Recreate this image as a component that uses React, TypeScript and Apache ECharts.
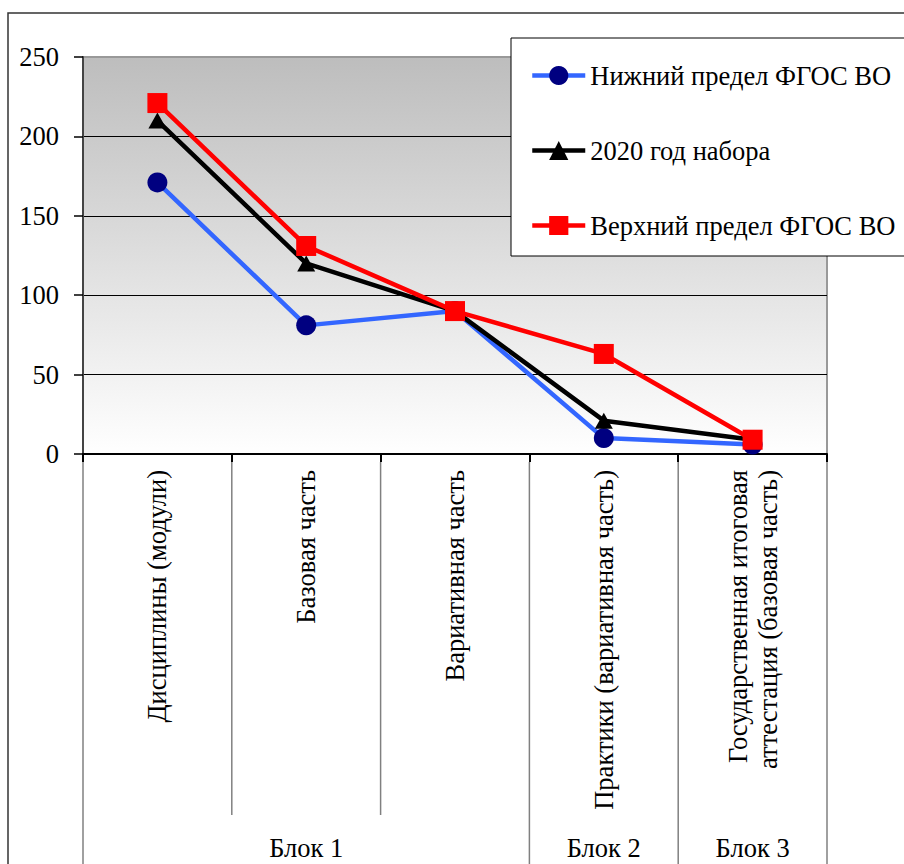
import React, { useEffect, useRef } from 'react';
import * as echarts from 'echarts';

const categories = [
  'Дисциплины (модули)',
  'Базовая часть',
  'Вариативная часть',
  'Практики (вариативная часть)',
  'Государственная итоговая\nаттестация (базовая часть)',
];
const lowerLimit = [171, 81, 90, 10, 6];
const year2020 = [210, 120, 90, 21, 9];
const upperLimit = [221, 131, 90, 63, 9];
const seriesNames = ['Нижний предел ФГОС ВО', '2020 год набора', 'Верхний предел ФГОС ВО'];
const groupNames = ['Блок 1', 'Блок 2', 'Блок 3'];
const groupSpans = [3, 1, 1];
const yMin = 0;
const yMax = 250;
const yStep = 50;

const FONT = 'Liberation Serif';
const FS = 26.5;

export default function App() {
  const ref = useRef<HTMLDivElement>(null);
  useEffect(() => {
    if (!ref.current) return;
    const chart = echarts.init(ref.current, undefined, { renderer: 'svg' });
    const option: any = {
      animation: false,
      backgroundColor: '#ffffff',
      textStyle: { fontFamily: FONT, color: '#000' },
      grid: {
        left: 83,
        top: 57,
        right: 77,
        bottom: 410,
        outerBoundsMode: 'none',
        containLabel: false,
        show: true,
        borderColor: '#999999',
        borderWidth: 2,
        backgroundColor: new echarts.graphic.LinearGradient(0, 0, 0, 1, [
          { offset: 0, color: '#bdbdbd' },
          { offset: 1, color: '#ffffff' },
        ]),
      },
      legend: {
        orient: 'vertical',
        left: 511,
        top: 38,
        padding: [24, 40, 17, 19],
        backgroundColor: '#ffffff',
        borderColor: '#000000',
        borderWidth: 1,
        itemWidth: 53,
        itemHeight: 24,
        itemGap: 48,
        lineStyle: { width: 4.5 },
        textStyle: { fontFamily: FONT, fontSize: FS, color: '#000', lineHeight: 26 },
        data: seriesNames,
      },
      xAxis: {
        type: 'category',
        data: categories,
        boundaryGap: true,
        axisLine: { show: true, lineStyle: { color: '#000', width: 2 } },
        axisTick: { show: true, length: 8, lineStyle: { color: '#000', width: 2 } },
        axisLabel: {
          rotate: 90,
          margin: 16,
          interval: 0,
          fontFamily: FONT,
          fontSize: FS,
          lineHeight: 30,
          color: '#000',
        },
        splitLine: { show: false },
      },
      yAxis: {
        type: 'value',
        min: yMin,
        max: yMax,
        interval: yStep,
        axisLine: { show: true, lineStyle: { color: '#444', width: 2 } },
        axisTick: { show: true, length: 9, lineStyle: { color: '#000', width: 1.5 } },
        axisLabel: { margin: 24, fontFamily: FONT, fontSize: FS, color: '#000' },
        splitLine: {
          show: true,
          lineStyle: { color: ['#000', '#000', '#000', '#000', '#000', '#999'], width: 1 },
        },
      },
      series: [
        {
          name: seriesNames[0],
          type: 'line',
          data: lowerLimit,
          symbol: 'circle',
          symbolSize: 20,
          lineStyle: { color: '#3366ff', width: 4.5 },
          itemStyle: { color: '#000080' },
          z: 2,
        },
        {
          name: seriesNames[1],
          type: 'line',
          data: year2020,
          symbol: 'triangle',
          symbolSize: [18, 16],
          lineStyle: { color: '#000000', width: 4.5 },
          itemStyle: { color: '#000000' },
          z: 3,
        },
        {
          name: seriesNames[2],
          type: 'line',
          data: upperLimit,
          symbol: 'rect',
          symbolSize: 20,
          lineStyle: { color: '#ff0000', width: 4.5 },
          itemStyle: { color: '#ff0000' },
          z: 4,
        },
      ],
    };
    chart.setOption(option);

    const c0 = chart.convertToPixel({ xAxisIndex: 0 }, 0) as number;
    const c1 = chart.convertToPixel({ xAxisIndex: 0 }, 1) as number;
    const band = c1 - c0;
    const left = c0 - band / 2;
    const zeroY = chart.convertToPixel({ yAxisIndex: 0 }, 0) as number;
    const innerBottom = 815;
    const outerBottom = 870;
    const groupLabelY = 848;

    const graphics: any[] = [
      {
        type: 'rect',
        silent: true,
        z: 10,
        shape: { x: 8, y: 13, width: 1000, height: 1000 },
        style: { fill: 'none', stroke: '#333', lineWidth: 1.5 },
      },
    ];
    const groupBoundaries = new Set<number>();
    let acc = 0;
    groupBoundaries.add(0);
    groupSpans.forEach((s, gi) => {
      const start = acc;
      acc += s;
      groupBoundaries.add(acc);
      graphics.push({
        type: 'text',
        silent: true,
        x: left + ((start + acc) / 2) * band,
        y: groupLabelY,
        style: {
          text: groupNames[gi],
          fontFamily: FONT,
          fontSize: FS,
          fill: '#000',
          align: 'center',
          verticalAlign: 'middle',
        },
      });
    });
    for (let i = 0; i <= categories.length; i++) {
      const x = left + i * band;
      graphics.push({
        type: 'line',
        silent: true,
        z: 1,
        shape: { x1: x, y1: zeroY + 8, x2: x, y2: groupBoundaries.has(i) ? outerBottom : innerBottom },
        style: { stroke: '#808080', lineWidth: 1.5 },
      });
    }
    chart.setOption({ graphic: graphics });

    return () => chart.dispose();
  }, []);
  return (
    <div
      ref={ref}
      style={{ position: 'absolute', left: 0, top: 0, width: 904, height: 864 }}
    />
  );
}
